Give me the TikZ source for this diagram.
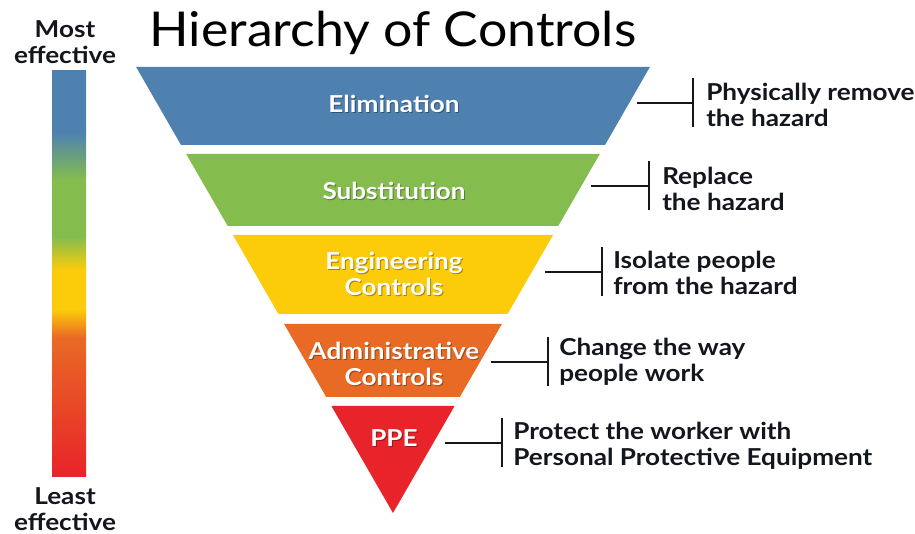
\documentclass[tikz,border=0pt]{standalone}
\usepackage{fontspec}
\setmainfont{Lato}
\newfontfamily\wideb{Lato Bold}[FakeStretch=1.12]
\newfontfamily\widet{Lato}[FakeStretch=1.08]
\usetikzlibrary{calc}
\definecolor{cblue}{RGB}{79,129,176}
\definecolor{cgreen}{RGB}{132,189,78}
\definecolor{cyellow}{RGB}{252,204,10}
\definecolor{corange}{RGB}{233,106,36}
\definecolor{cred}{RGB}{232,35,42}
\definecolor{ctext}{RGB}{20,22,30}
\pgfdeclareverticalshading{barshade}{100bp}{%
  color(0bp)=(cred); color(25bp)=(cred);
  color(42.2bp)=(corange); color(45.6bp)=(cyellow); color(50.5bp)=(cyellow);
  color(54.6bp)=(cgreen); color(61.6bp)=(cgreen); color(67.4bp)=(cblue);
  color(75bp)=(cblue); color(100bp)=(cblue)}
\tikzset{
  bandlabel/.style={text=white, font=\wideb\fontsize{17.5pt}{19.5pt}\selectfont, align=center, inner sep=0pt},
  bandshadow/.style={bandlabel, text=black, opacity=0.35},
  desc/.style={text=ctext, font=\wideb\fontsize{17.5pt}{19.5pt}\selectfont, align=left, anchor=west, inner sep=0pt},
  side/.style={text=ctext, font=\wideb\fontsize{17.5pt}{19.5pt}\selectfont, align=center, inner sep=0pt},
  conn/.style={draw=ctext, line width=1.3pt},
}
\begin{document}
\begin{tikzpicture}[x=0.75pt,y=-0.75pt]
\useasboundingbox (0,0) rectangle (915,534);
% title
\node[inner sep=0pt, anchor=base, text=black, font=\widet\fontsize{36pt}{40pt}\selectfont] (title) at (393,47) {Hierarchy of Controls};
% gradient bar
\shade[shading=barshade] (52,71) rectangle (86,477);
\node[side] (most) at (65,42) {Most\\effective};
\node[side] (least) at (65,509) {Least\\effective};
% bands
\fill[cblue] (136.1,67) -- (649.9,67) -- (605,145) -- (181,145) -- cycle;
\fill[cgreen] (186.2,154) -- (599.8,154) -- (558.3,226) -- (227.7,226) -- cycle;
\fill[cyellow] (232.9,235) -- (553.1,235) -- (507.6,314) -- (278.4,314) -- cycle;
\fill[corange] (284.1,324) -- (501.9,324) -- (459.8,397) -- (326.2,397) -- cycle;
\fill[cred] (331.4,406) -- (454.6,406) -- (393,513) -- cycle;
% band label shadows
\node[bandshadow] at (395,105) {Elimination};
\node[bandshadow] at (395,192) {Substitution};
\node[bandshadow] at (395,275) {Engineering\\Controls};
\node[bandshadow] at (395,365) {Administrative\\Controls};
\node[bandshadow] at (395,439) {PPE};
% band labels
\node[bandlabel] (elim) at (394,104) {Elimination};
\node[bandlabel] (subst) at (394,191) {Substitution};
\node[bandlabel] (eng) at (394,274) {Engineering\\Controls};
\node[bandlabel] (admin) at (394,364) {Administrative\\Controls};
\node[bandlabel] (ppe) at (394,438) {PPE};
% descriptions
\node[desc] (d1) at (706,105) {Physically remove\\the hazard};
\node[desc] (d2) at (662,189) {Replace\\the hazard};
\node[desc] (d3) at (613,273) {Isolate people\\from the hazard};
\node[desc] (d4) at (559,362) {Change the way\\people work};
\node[desc] (d5) at (513,446) {Protect the worker with\\Personal Protective Equipment};
% connectors
\coordinate (s1) at (637,103); \coordinate (b1) at (693,103);
\coordinate (s2) at (591,186); \coordinate (b2) at (649,186);
\coordinate (s3) at (545,272); \coordinate (b3) at (602,272);
\coordinate (s4) at (491,362); \coordinate (b4) at (548,362);
\coordinate (s5) at (445,443); \coordinate (b5) at (502,443);
\foreach \i in {1,...,5}{
  \draw[conn] (s\i) -- (b\i);
  \draw[conn] ($(b\i)+(0,-24.5)$) -- ($(b\i)+(0,24.5)$);
}
\end{tikzpicture}
\end{document}
